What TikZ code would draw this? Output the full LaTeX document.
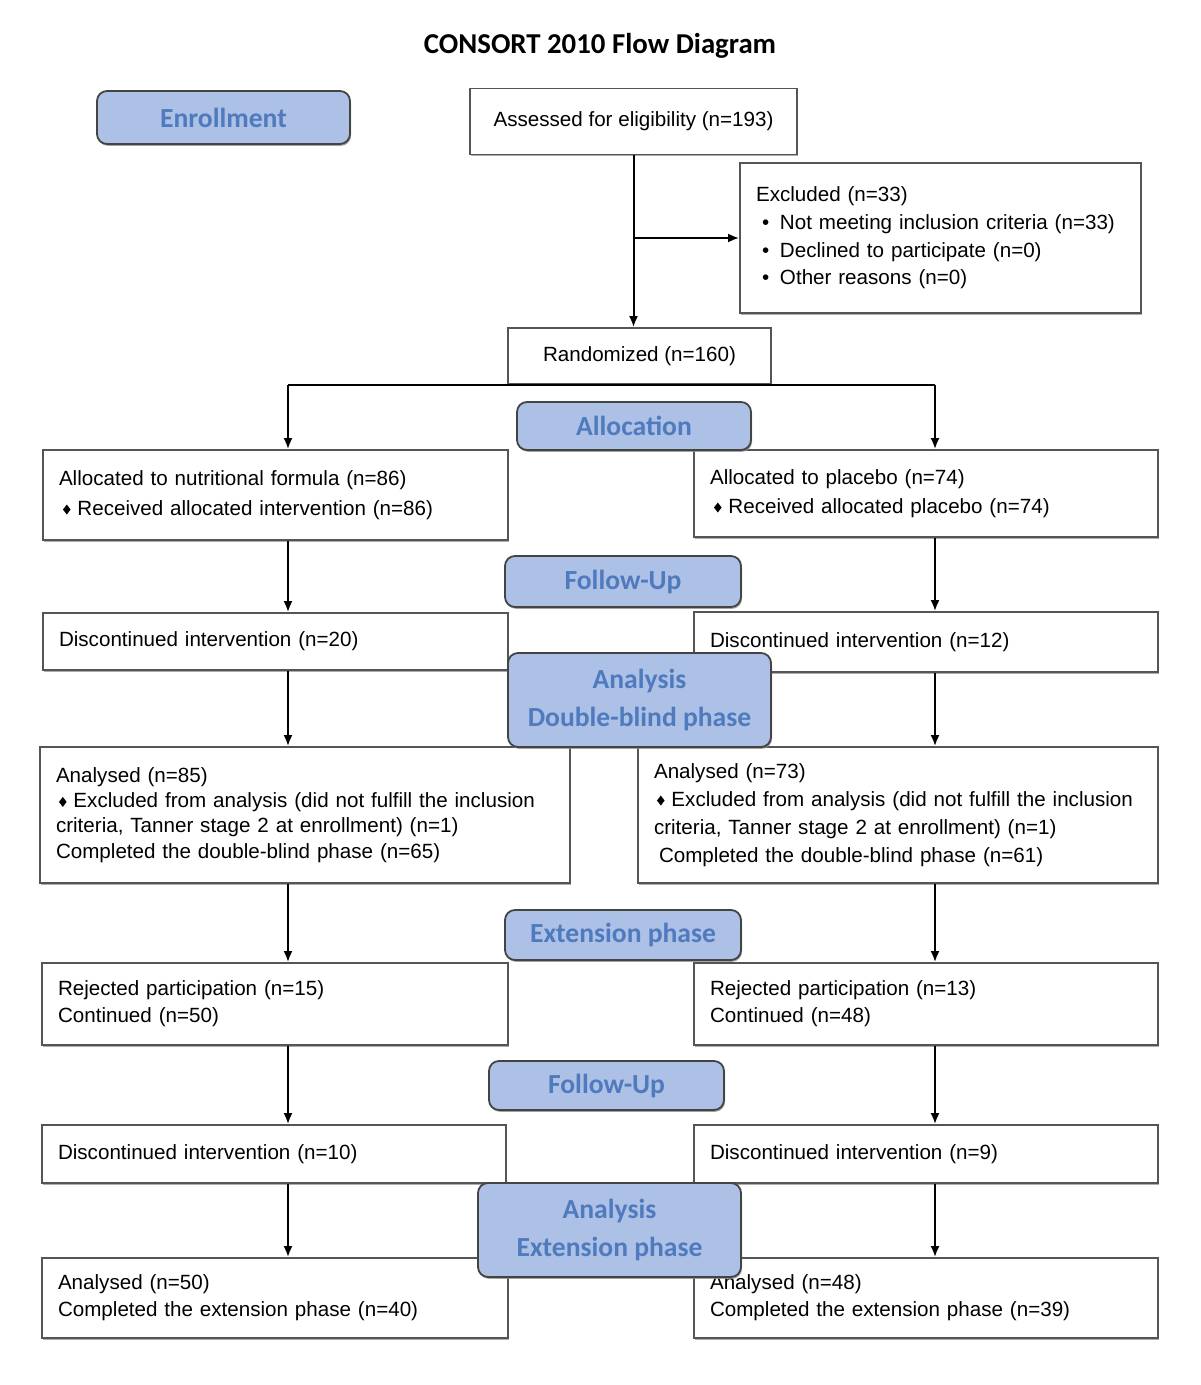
\documentclass[tikz,border=0pt]{standalone}
\usepackage{fontspec}
\setmainfont{Liberation Sans}
\newfontfamily\calib{Carlito}
\usetikzlibrary{arrows.meta,shadows}
\definecolor{lblfill}{RGB}{172,193,229}
\definecolor{lbltext}{RGB}{79,122,190}
\definecolor{bordergray}{RGB}{85,85,85}
\newcommand\dmd{\tikz[baseline={(0,-2.9pt)}]\fill (0,2.5pt) -- (1.9pt,0) -- (0,-2.5pt) -- (-1.9pt,0) -- cycle;}
\newcommand\bul{\hspace*{3pt}\makebox[9pt][l]{•}}
\begin{document}
\begin{tikzpicture}[x=0.5pt,y=-0.5pt,
  box/.style={draw=bordergray, line width=0.9pt, fill=white, rectangle, inner xsep=8pt, inner ysep=0pt,
    font=\fontsize{10.3}{15}\selectfont, align=left,
    drop shadow={shadow xshift=0.7pt, shadow yshift=-0.9pt, fill=black!40, opacity=0.8}},
  cbox/.style={box, align=center},
  lbl/.style={draw=bordergray!80!black, line width=0.9pt, fill=lblfill, rounded corners=5pt, rectangle,
    inner sep=0pt, font=\calib\bfseries\fontsize{13.8}{19}\selectfont, text=lbltext, align=center,
    drop shadow={shadow xshift=0.5pt, shadow yshift=-0.9pt, fill=black!45, opacity=0.8}},
  arr/.style={line width=1pt, -{Latex[length=5.5pt,width=4.5pt]}},
  ln/.style={line width=1pt}
]
\useasboundingbox (0,0) rectangle (1200,1385);

% title
\node[font=\calib\bfseries\fontsize{14.4}{17}\selectfont] (title) at (600,46) {CONSORT 2010 Flow Diagram};

% main boxes
\node[cbox, minimum width=163.5pt, minimum height=33pt] (assessed) at (633.5,121.5) {Assessed for eligibility (n=193)};
\node[box, minimum width=200.5pt, minimum height=75pt, text width=184.5pt, font=\fontsize{10.3}{13.8}\selectfont] (excluded) at (940.5,238)
  {Excluded (n=33)\\\bul Not meeting inclusion criteria (n=33)\\\bul Declined to participate (n=0)\\\bul Other reasons (n=0)};
\node[cbox, minimum width=131.5pt, minimum height=28pt] (randomized) at (639.5,356) {Randomized (n=160)};

\node[box, minimum width=232.5pt, minimum height=45pt, text width=216.5pt] (allocL) at (275.5,495)
  {Allocated to nutritional formula (n=86)\\\hspace*{2pt}\dmd\ Received allocated intervention (n=86)};
\node[box, minimum width=232pt, minimum height=43.5pt, text width=216pt, font=\fontsize{10.3}{14.5}\selectfont] (allocR) at (926,493.5)
  {Allocated to placebo (n=74)\\\hspace*{2pt}\dmd\ Received allocated placebo (n=74)};

\node[box, minimum width=232.5pt, minimum height=28.5pt, text width=216.5pt] (discL) at (275.5,641.5) {Discontinued intervention (n=20)};
\node[box, minimum width=232pt, minimum height=30pt, text width=216pt] (discR) at (926,642) {Discontinued intervention (n=12)};

\node[box, minimum width=265pt, minimum height=68pt, text width=249pt, font=\fontsize{10.3}{12.6}\selectfont] (anaL) at (305,815)
  {Analysed (n=85)\\\hspace*{1.5pt}\dmd\ Excluded from analysis (did not fulfill the inclusion\\criteria, Tanner stage 2 at enrollment) (n=1)\\Completed the double-blind phase (n=65)};
\node[box, minimum width=260pt, minimum height=68pt, text width=244pt, font=\fontsize{10.3}{14}\selectfont] (anaR) at (898,815)
  {Analysed (n=73)\\\hspace*{1.5pt}\dmd\ Excluded from analysis (did not fulfill the inclusion\\criteria, Tanner stage 2 at enrollment) (n=1)\\\hspace*{2.5pt}Completed the double-blind phase (n=61)};

\node[box, minimum width=233pt, minimum height=41pt, text width=217pt, font=\fontsize{10.3}{13.5}\selectfont] (rejL) at (275,1004)
  {Rejected participation (n=15)\\Continued (n=50)};
\node[box, minimum width=232pt, minimum height=41pt, text width=216pt, font=\fontsize{10.3}{13.5}\selectfont] (rejR) at (926,1004)
  {Rejected participation (n=13)\\Continued (n=48)};

\node[box, minimum width=232pt, minimum height=29pt, text width=216pt] (disc2L) at (274,1154) {Discontinued intervention (n=10)};
\node[box, minimum width=232pt, minimum height=29pt, text width=216pt] (disc2R) at (926,1154) {Discontinued intervention (n=9)};

\node[box, minimum width=233pt, minimum height=40pt, text width=217pt, font=\fontsize{10.3}{13.5}\selectfont] (finL) at (275,1298)
  {Analysed (n=50)\\Completed the extension phase (n=40)};
\node[box, minimum width=232pt, minimum height=40pt, text width=216pt, font=\fontsize{10.3}{13.5}\selectfont] (finR) at (926,1298)
  {Analysed (n=48)\\Completed the extension phase (n=39)};

% column coordinates
\coordinate (colL) at (288,0);
\coordinate (colR) at (935,0);

% connectors
\draw[arr] (assessed.south) -- (assessed.south |- randomized.north);
\draw[arr] (assessed.south |- excluded.west) -- (excluded.west);
\draw[ln] (randomized.south -| colL) -- (randomized.south -| colR);
\draw[arr] (randomized.south -| colL) -- (allocL.north -| colL);
\draw[arr] (randomized.south -| colR) -- (allocR.north -| colR);

\draw[arr] (allocL.south -| colL) -- (discL.north -| colL);
\draw[arr] (discL.south -| colL) -- (anaL.north -| colL);
\draw[arr] (anaL.south -| colL) -- (rejL.north -| colL);
\draw[arr] (rejL.south -| colL) -- (disc2L.north -| colL);
\draw[arr] (disc2L.south -| colL) -- (finL.north -| colL);

\draw[arr] (allocR.south -| colR) -- (discR.north -| colR);
\draw[arr] (discR.south -| colR) -- (anaR.north -| colR);
\draw[arr] (anaR.south -| colR) -- (rejR.north -| colR);
\draw[arr] (rejR.south -| colR) -- (disc2R.north -| colR);
\draw[arr] (disc2R.south -| colR) -- (finR.north -| colR);

% stage labels
\node[lbl, minimum width=126.5pt, minimum height=26.5pt] (enroll) at (223.5,117.5) {Enrollment};
\node[lbl, minimum width=117pt, minimum height=24pt] (alloc) at (634,426) {Allocation};
\node[lbl, minimum width=118pt, minimum height=25.5pt] (fu1) at (623,581.5) {Follow-Up};
\node[lbl, minimum width=131.5pt, minimum height=47pt] (anaDB) at (639.5,700) {Analysis\\Double-blind phase};
\node[lbl, minimum width=118pt, minimum height=25pt] (ext) at (623,935) {Extension phase};
\node[lbl, minimum width=117.5pt, minimum height=24.5pt] (fu2) at (606.5,1085.5) {Follow-Up};
\node[lbl, minimum width=131.5pt, minimum height=47pt] (anaExt) at (609.5,1230) {Analysis\\Extension phase};
\end{tikzpicture}
\end{document}
